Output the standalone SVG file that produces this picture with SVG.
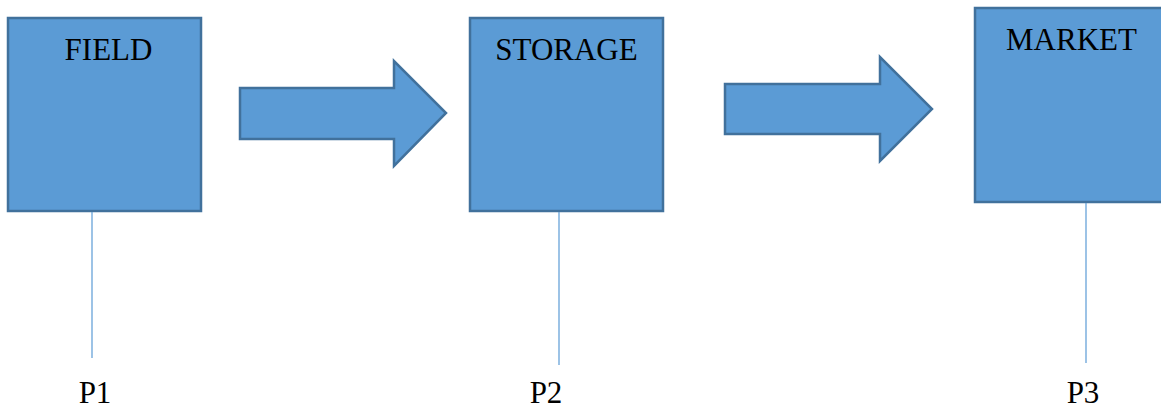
<svg xmlns="http://www.w3.org/2000/svg" width="1161" height="410" viewBox="0 0 1161 410">
<style>
.box{fill:#5b9bd5;stroke:#41719c;stroke-width:2.5}
.t{font-family:"Liberation Serif","Times New Roman",serif;font-size:31px;fill:#000;text-anchor:middle}
.ln{stroke:#5b9bd5;stroke-width:1.2;fill:none}
</style>
<rect width="1161" height="410" fill="#fff"/>
<g id="field">
<rect class="box" x="8" y="18" width="193" height="193"/>
<text class="t" x="108.5" y="60">FIELD</text>
</g>
<g id="storage">
<rect class="box" x="470" y="18" width="193" height="193"/>
<text class="t" x="566.5" y="60">STORAGE</text>
</g>
<g id="market">
<rect class="box" x="975" y="8" width="193" height="194"/>
<text class="t" x="1071.5" y="50">MARKET</text>
</g>
<g id="arrow1">
<polygon class="box" points="240,88 394,88 394,61 446,113 394,166 394,139 240,139"/>
</g>
<g id="arrow2">
<polygon class="box" points="725,84 880,84 880,57 932,109 880,161 880,134 725,134"/>
</g>
<g id="connectors">
<line class="ln" x1="92" y1="212" x2="92" y2="358"/>
<line class="ln" x1="559" y1="212" x2="559" y2="365"/>
<line class="ln" x1="1086" y1="203" x2="1086" y2="363"/>
</g>
<g id="labels">
<text class="t" x="95" y="403">P1</text>
<text class="t" x="546" y="403">P2</text>
<text class="t" x="1083" y="403">P3</text>
</g>
</svg>
